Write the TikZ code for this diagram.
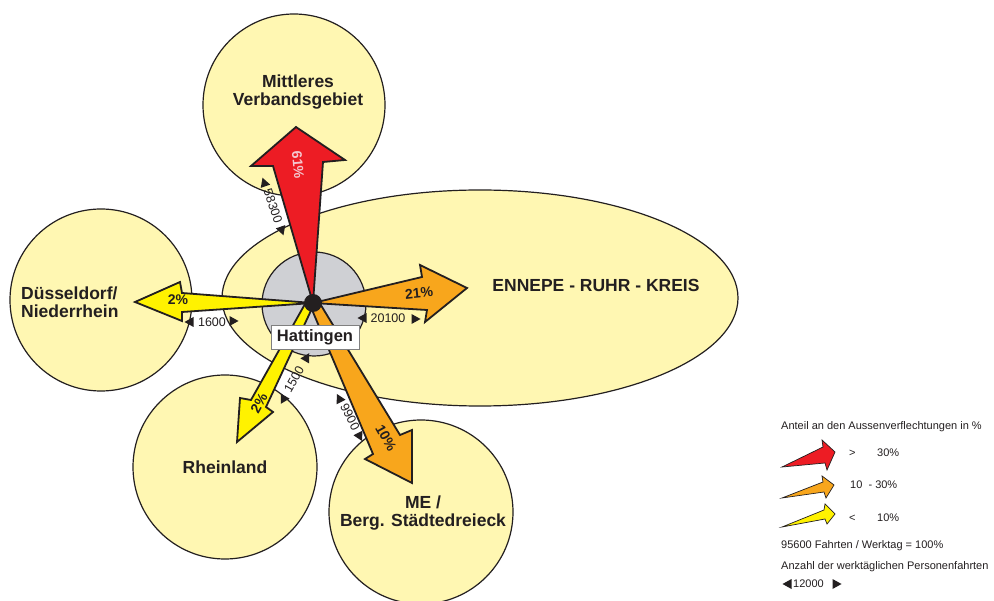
\documentclass[tikz,border=0pt]{standalone}
\usepackage{fontspec}
\setmainfont{Liberation Sans}
\definecolor{zone}{HTML}{FFF7B2}
\definecolor{hubgray}{HTML}{CFD0D4}
\definecolor{redA}{HTML}{ED1C24}
\definecolor{orA}{HTML}{F8A61C}
\definecolor{yeA}{HTML}{FFF200}
\definecolor{pinkT}{HTML}{F4C7CF}
\definecolor{ink}{HTML}{231F20}
\usetikzlibrary{shapes.geometric}
\tikzset{
  zonebox/.style={draw=ink, fill=zone, line width=1.2pt, inner sep=0pt},
  flow/.style={draw=ink, line width=1.8pt, line join=miter, miter limit=10},
  legflow/.style={draw=ink, line width=0.7pt, line join=miter, miter limit=10},
  region/.style={font=\bfseries\fontsize{17.5}{18}\selectfont, text=ink, align=center, inner sep=0pt},
  pct/.style={font=\bfseries\fontsize{14}{14}\selectfont, text=ink, inner sep=0pt},
  num/.style={font=\fontsize{12.5}{12.5}\selectfont, text=ink, inner sep=0pt},
  leg/.style={font=\fontsize{11}{12}\selectfont, text=ink, inner sep=0pt, anchor=west},
  tri/.pic={\fill[ink] (4.5,0) -- (-4.5,5) -- (-4.5,-5) -- cycle;}
}
\begin{document}
\begin{tikzpicture}[x=1pt,y=-1pt]
\fill[white] (0,0) rectangle (994,601);
\useasboundingbox (0,0) rectangle (994,601);
% zones
\node[zonebox, circle, minimum size=182pt] (mvg) at (294,105) {};
\node[zonebox, ellipse, minimum width=516pt, minimum height=216pt] (erk) at (480,298) {};
\node[zonebox, circle, minimum size=182pt] (dus) at (101,300) {};
\node[zonebox, circle, minimum size=184pt] (rhl) at (225,467) {};
\node[zonebox, circle, minimum size=184pt] (me) at (421,512) {};
% hub
\node[circle, draw=ink, fill=hubgray, line width=1.2pt, minimum size=104pt, inner sep=0pt] (hub) at (314,304) {};
\coordinate (c) at (313,303);
% flow arrows
\filldraw[flow, fill=redA] (c) -- (273,166) -- (251,166) -- (296,127) -- (345,160) -- (323,162) -- cycle;
\filldraw[flow, fill=orA] (c) -- (422,277) -- (420,265) -- (467,288) -- (425,322) -- (427,310) -- cycle;
\filldraw[flow, fill=yeA] (c) -- (182,293) -- (180,282) -- (135,302) -- (182,321) -- (182,312) -- cycle;
\filldraw[flow, fill=yeA] (305,304) -- (251,400) -- (240,398) -- (237,442) -- (273,412) -- (266,407) -- (315,302) -- cycle;
\filldraw[flow, fill=orA] (310,305) -- (373,454) -- (365,459) -- (412,483) -- (412,430) -- (400,435) -- (319,302) -- cycle;
\node[circle, fill=ink, minimum size=18pt, inner sep=0pt] (dot) at (c) {};
% Hattingen
\node[draw=gray, fill=white, line width=0.8pt, minimum width=88pt, minimum height=24pt, inner sep=1pt,
      font=\bfseries\fontsize{16.5}{17}\selectfont, text=ink] (hat) at (315,337) {Hattingen};
% region labels
\node[region] (tmvg) at (298,92) {Mittleres\\Verbandsgebiet};
\node[region] (terk) at (596,285) {ENNEPE - RUHR - KREIS};
\node[region, align=left, anchor=west] (tdus) at (21,302) {Düsseldorf/\\Niederrhein};
\node[region] (trhl) at (225,467) {Rheinland};
\node[region] (tme) at (423,513) {ME /\\Berg. Städtedreieck};
% percentages
\node[pct, text=pinkT, rotate=-85] (p61) at (298,165) {61\%};
\node[pct, rotate=6] (p21) at (419,293) {21\%};
\node[pct] (p2a) at (178,300) {2\%};
\node[pct, rotate=61] (p2b) at (259,403) {2\%};
\node[pct, rotate=-61] (p10) at (386,438) {10\%};
% trip counts
\node[num, rotate=-71] (n58) at (273,206) {58300};
\pic[rotate=109] at (264,182) {tri};
\pic[rotate=-71] at (282,231) {tri};
\node[num] (n20) at (388,318) {20100};
\pic[rotate=180] at (362,318) {tri};
\pic at (416,319) {tri};
\node[num] (n16) at (212,322) {1600};
\pic[rotate=180] at (189,322) {tri};
\pic at (234,321) {tri};
\node[num, rotate=60] (n15) at (294,379) {1500};
\pic[rotate=60] at (307,357) {tri};
\pic[rotate=240] at (283,400) {tri};
\node[num, rotate=-63] (n99) at (350,417) {9900};
\pic[rotate=117] at (339,398) {tri};
\pic[rotate=-63] at (360,437) {tri};
% legend
\node[leg] (lt) at (781,427) {Anteil an den Aussenverflechtungen in \%};
\filldraw[legflow, fill=redA] (782,467) -- (823,447) -- (822,440) -- (835,452) -- (827,470) -- (825,463) -- cycle;
\filldraw[legflow, fill=orA] (782,498) -- (823,482) -- (822,476) -- (834,485) -- (826,498) -- (824,492) -- cycle;
\filldraw[legflow, fill=yeA] (782,527) -- (824,510) -- (825,504) -- (835,514) -- (827,524) -- (825,519) -- cycle;
\node[leg] (l1a) at (849,453) {>};
\node[leg] (l1b) at (877,453) {30\%};
\node[leg] (l2) at (850,485) {10 \ - 30\%};
\node[leg] (l3a) at (849,518) {<};
\node[leg] (l3b) at (877,518) {10\%};
\node[leg] (l4) at (781,546) {95600 Fahrten / Werktag = 100\%};
\node[leg] (l5) at (781,567) {Anzahl der werktäglichen Personenfahrten};
\node[leg] (l6) at (793,584) {12000};
\pic[rotate=180] at (787,584) {tri};
\pic at (837,584) {tri};
\end{tikzpicture}
\end{document}
